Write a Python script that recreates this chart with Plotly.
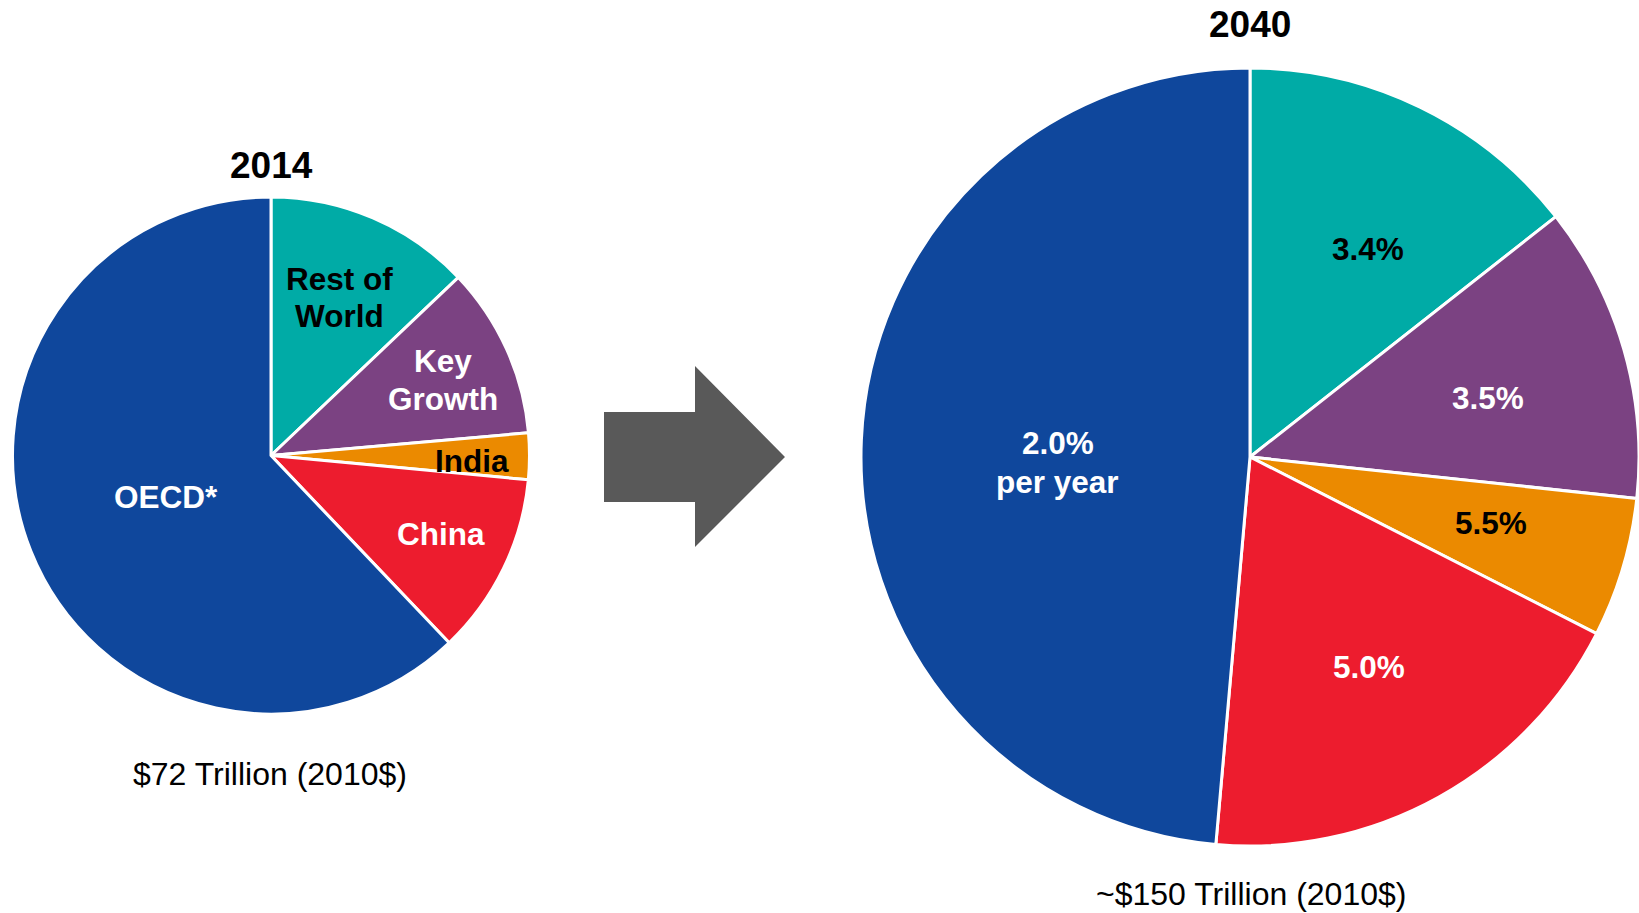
import plotly.graph_objects as go

W, H = 1639, 913

regions = ["Rest of World", "Key Growth", "India", "China", "OECD*"]
share_2014 = [12.9, 10.7, 2.9, 11.4, 62.1]
share_2040 = [14.4, 12.3, 5.8, 18.9, 48.6]
growth_2040 = ["3.4%", "3.5%", "5.5%", "5.0%", "2.0%<br>per year"]
colors = ["#00ABA6", "#7B4282", "#EB8A00", "#ED1C2E", "#0F479C"]
titles = ["2014", "2040"]
totals = ["$72 Trillion (2010$)", "~$150 Trillion (2010$)"]

FONT = "Liberation Sans, Arial, sans-serif"


def px(x, y):
    return x / W, 1 - y / H


fig = go.Figure()

l_x0, l_y0 = px(12.5, 714)
l_x1, l_y1 = px(529.5, 197)
r_x0, r_y0 = px(861, 847)
r_x1, r_y1 = px(1641, 67)

common = dict(
    sort=False, direction="clockwise", rotation=0,
    textinfo="none", hoverinfo="skip", showlegend=False,
    marker=dict(colors=colors, line=dict(color="white", width=3)),
)
fig.add_trace(go.Pie(labels=regions, values=share_2014,
                     domain=dict(x=[l_x0, l_x1], y=[l_y0, l_y1]), **common))
fig.add_trace(go.Pie(labels=regions, values=share_2040,
                     domain=dict(x=[r_x0, min(r_x1, 1.0)], y=[r_y0, r_y1]), **common))

annotations = []


def ann(text, x, y, size, color="black", bold=True):
    ax, ay = px(x, y)
    annotations.append(dict(
        text=f"<b>{text}</b>" if bold else text, x=ax, y=ay,
        xref="paper", yref="paper", xanchor="center", yanchor="middle",
        showarrow=False, font=dict(family=FONT, size=size, color=color)))


# titles and totals
ann(titles[0], 271.7, 165, 37)
ann(titles[1], 1250, 25, 37)
ann(totals[0], 270, 774, 32, bold=False)
ann(totals[1], 1251, 894, 32, bold=False)

# 2014 labels
ann("Rest of", 339, 279, 31.5)
ann("World", 339, 316, 31.5)
ann("Key", 443, 361, 31.5, "white")
ann("Growth", 443, 399, 31.5, "white")
ann(regions[2], 471.7, 461, 31.5)
ann(regions[3], 440.8, 533.5, 31.5, "white")
ann(regions[4], 166.2, 497, 31.5, "white")

# 2040 labels
ann(growth_2040[0], 1367.8, 249, 31.5)
ann(growth_2040[1], 1488.3, 398, 31.5, "white")
ann(growth_2040[2], 1491, 523, 31.5)
ann(growth_2040[3], 1369.4, 667, 31.5, "white")
g = growth_2040[4].split("<br>")
ann(g[0], 1058.3, 443, 31.5, "white")
ann(g[1], 1057, 482, 31.5, "white")

# block arrow
pts = [(604, 412), (695, 412), (695, 366), (785, 457), (695, 547), (695, 502), (604, 502)]
path = "M " + " L ".join(f"{px(x, y)[0]:.5f},{px(x, y)[1]:.5f}" for x, y in pts) + " Z"
shapes = [dict(type="path", xref="paper", yref="paper", path=path,
               fillcolor="#595959", line=dict(width=0))]

fig.update_layout(
    width=W, height=H,
    margin=dict(l=0, r=0, t=0, b=0),
    paper_bgcolor="white", plot_bgcolor="white",
    annotations=annotations, shapes=shapes,
    font=dict(family=FONT),
)

fig.write_html(
    "out.html",
    config={"displayModeBar": False},
    post_script="document.body.style.margin='0';document.body.style.overflow='hidden';",
)
